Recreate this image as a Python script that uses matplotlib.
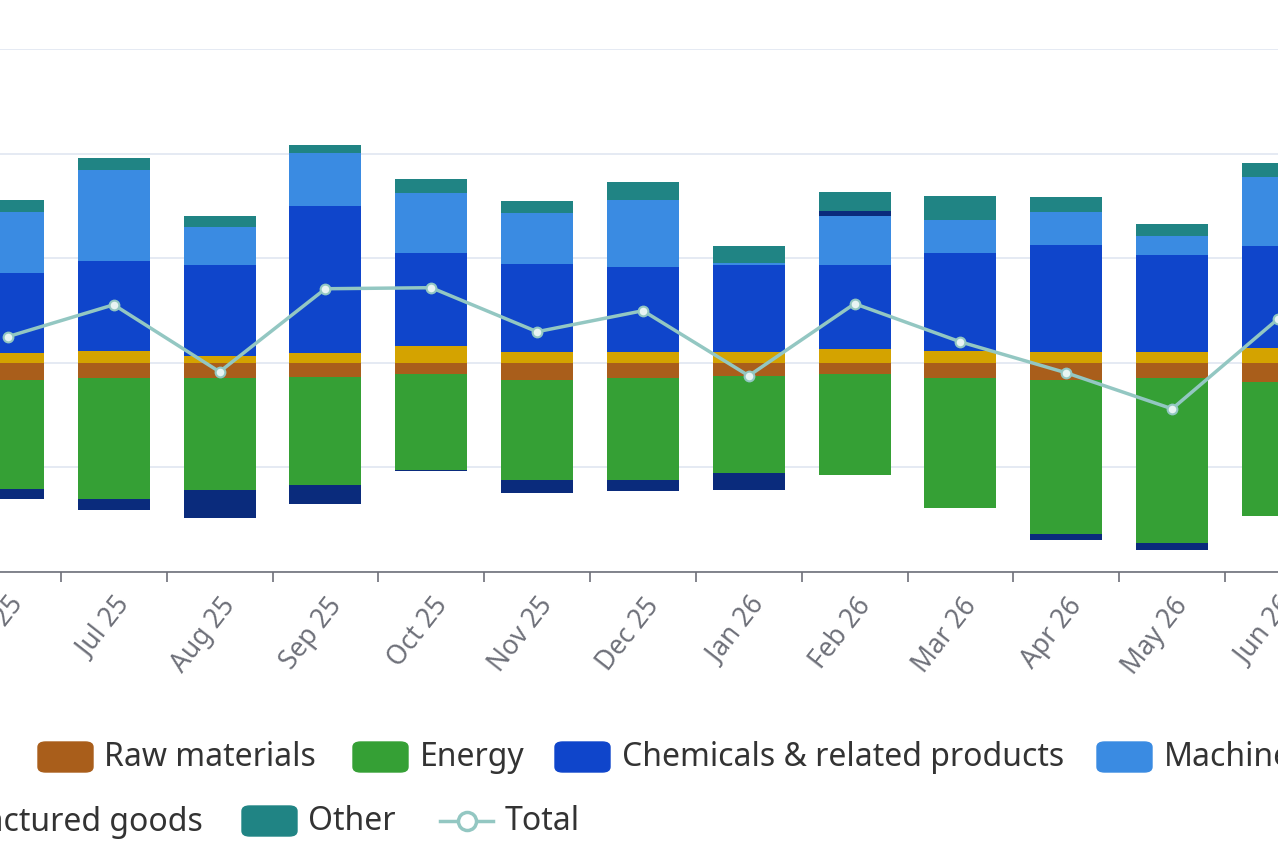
import numpy as np
import matplotlib.pyplot as plt
from matplotlib.patches import FancyBboxPatch
from matplotlib.lines import Line2D

plt.rcParams['font.family'] = ['Noto Sans', 'DejaVu Sans']

months = ['Jun 25', 'Jul 25', 'Aug 25', 'Sep 25', 'Oct 25', 'Nov 25', 'Dec 25',
          'Jan 26', 'Feb 26', 'Mar 26', 'Apr 26', 'May 26', 'Jun 26']

manufactured = [0.96, 1.15, 0.67, 0.96, 1.63, 1.05, 1.05, 1.05, 1.35, 1.15, 1.05, 1.0, 1.4]
raw_materials = [-1.6, -1.45, -1.45, -1.34, -1.05, -1.6, -1.45, -1.25, -1.05, -1.45, -1.6, -1.5, -1.8]
energy = [-10.5, -11.6, -10.7, -10.3, -9.2, -9.6, -9.75, -9.3, -9.7, -12.4, -14.8, -15.7, -12.8]
chemicals = [7.6, 8.6, 8.7, 14.07, 8.9, 8.4, 8.1, 8.3, 8.0, 9.3, 10.2, 9.3, 9.8]
machinery = [5.9, 8.7, 3.65, 5.0, 5.74, 4.9, 6.4, 0.2, 4.7, 3.16, 3.16, 1.8, 6.6]
food = [-0.9, -1.05, -2.7, -1.9, -0.1, -1.25, -1.05, -1.6, 0.5, 0.0, -0.5, -0.65, 0.0]
other = [1.15, 1.15, 1.05, 0.77, 1.34, 1.15, 1.7, 1.6, 1.8, 2.3, 1.45, 1.15, 1.34]
total = [2.5, 5.55, -0.86, 7.08, 7.18, 2.97, 4.98, -1.24, 5.65, 2.0, -0.96, -4.4, 4.2]

series = [
    ('Manufactured goods', manufactured, '#d4a300'),
    ('Raw materials', raw_materials, '#a95e1b'),
    ('Energy', energy, '#35a035'),
    ('Chemicals & related products', chemicals, '#0f45cb'),
    ('Machinery', machinery, '#3a8be2'),
    ('Food', food, '#0a2b7c'),
    ('Other', other, '#208484'),
]

W, H = 1278, 853
fig = plt.figure(figsize=(W / 100, H / 100), dpi=100)
ax = fig.add_axes([0, (H - 573) / H, 1, (573 - 50) / H])

x = np.arange(len(months))
pos = np.zeros(len(months))
neg = np.zeros(len(months))
bw = 0.68
for name, vals, col in series:
    v = np.array(vals)
    base = np.where(v >= 0, pos, neg)
    ax.bar(x, v, bw, bottom=base, color=col, edgecolor='none', zorder=2)
    pos += np.where(v >= 0, v, 0)
    neg += np.where(v < 0, v, 0)

ax.plot(x, total, color='#93c7c2', lw=2.5, marker='o', ms=7,
        mfc='#e8f4f3', mec='#93c7c2', mew=1.5, zorder=4)

ax.set_xlim(-0.0746, 11.713)
ax.set_ylim(-20, 30)
ax.set_yticks([-20, -10, 0, 10, 20, 30])
ax.set_yticklabels([])
ax.tick_params(axis='y', length=0)
ax.grid(axis='y', color='#e0e6f1', lw=1.2, zorder=0)
for s in ['top', 'right', 'left']:
    ax.spines[s].set_visible(False)
ax.spines['bottom'].set_color('#6e7079')
ax.spines['bottom'].set_linewidth(1.2)

ax.set_xticks(x)
ax.set_xticklabels(months, rotation=52, ha='right', rotation_mode='anchor',
                   fontsize=19, color='#6e7079')
ax.tick_params(axis='x', which='major', length=0, pad=14)
ax.set_xticks(x[:-1] + 0.5, minor=True)
ax.tick_params(axis='x', which='minor', length=7, color='#6e7079', width=1.2)

# legend drawn by hand so it can run past the figure edges
cols = {name: col for name, _, col in series}


def swatch(px, py, col):
    fig.patches.append(FancyBboxPatch(((px) / W, (H - py - 15) / H), 55 / W, 30 / H,
                                      boxstyle='round,pad=0,rounding_size=0.006',
                                      transform=fig.transFigure, color=col))


def label(px, py, txt, ha='left'):
    fig.text(px / W, (H - py) / H, txt, fontsize=23, color='#333333',
             ha=ha, va='center')


row1 = 758
swatch(-180, row1, cols['Food'])
label(-114, row1, 'Food')
swatch(38, row1, cols['Raw materials'])
label(104, row1, 'Raw materials')
swatch(353, row1, cols['Energy'])
label(420, row1, 'Energy')
swatch(555, row1, cols['Chemicals & related products'])
label(622, row1, 'Chemicals & related products')
swatch(1097, row1, cols['Machinery'])
label(1164, row1, 'Machinery')

row2 = 822
label(203, row2, 'Manufactured goods', ha='right')
swatch(242, row2, cols['Other'])
label(308, row2, 'Other')
fig.lines.append(Line2D([440 / W, 493 / W], [(H - row2) / H] * 2, color='#93c7c2', lw=2.5,
                        transform=fig.transFigure))
fig.lines.append(Line2D([466.5 / W], [(H - row2) / H], marker='o', ms=13, mfc='white',
                        mec='#93c7c2', mew=2.5, transform=fig.transFigure))
label(505, row2, 'Total')

fig.savefig('out.png', dpi=100)
